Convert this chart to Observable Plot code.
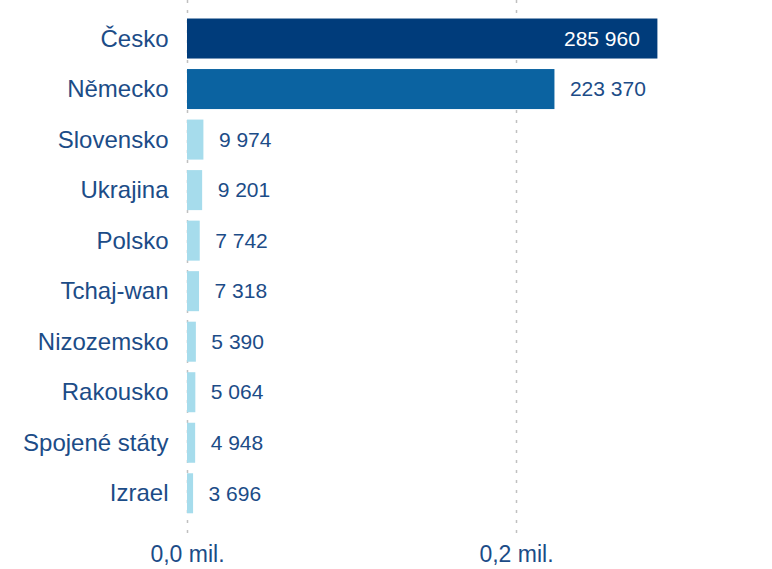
<!DOCTYPE html>
<html>
<head>
<meta charset="utf-8">
<script src="https://cdn.jsdelivr.net/npm/d3@7"></script>
<script src="https://cdn.jsdelivr.net/npm/@observablehq/plot@0.6"></script>
<style>
  html, body { margin: 0; padding: 0; background: #fff; }
  #chart svg { display: block; }
</style>
</head>
<body>
<div id="chart"></div>
<script>
const countries = ["Česko", "Německo", "Slovensko", "Ukrajina", "Polsko", "Tchaj-wan", "Nizozemsko", "Rakousko", "Spojené státy", "Izrael"];
const values = [285960, 223370, 9974, 9201, 7742, 7318, 5390, 5064, 4948, 3696];
const barColors = ["#003c7b", "#0b63a1", "#a6dcec", "#a6dcec", "#a6dcec", "#a6dcec", "#a6dcec", "#a6dcec", "#a6dcec", "#a6dcec"];
const tickValues = [0, 200000];
const tickLabels = ["0,0 mil.", "0,2 mil."];

const data = countries.map((c, i) => ({country: c, value: values[i], color: barColors[i], inside: i === 0}));
const fmt = d3.formatLocale({decimal: ",", thousands: " ", grouping: [3], currency: ["", " Kč"]}).format(",d");
const textColor = "#1c4c87";
const font = "'Liberation Sans', Arial, sans-serif";

const chart = Plot.plot({
  width: 772,
  height: 569,
  marginLeft: 187,
  marginRight: 91.5,
  marginTop: 8,
  marginBottom: 45.2,
  style: {fontFamily: font, background: "#fff"},
  x: {domain: [0, 300000], axis: null},
  y: {domain: countries, padding: 0.208, round: false, axis: null},
  marks: [
    Plot.ruleX(tickValues, {stroke: "#c0c0c0", strokeWidth: 1.5, strokeDasharray: "3,7", insetTop: -8, insetBottom: -13}),
    Plot.barX(data, {y: "country", x: "value", fill: "color"}),
    Plot.text(data.filter(d => d.inside), {y: "country", x: "value", text: d => fmt(d.value), textAnchor: "end", dx: -18, fill: "#fff", fontSize: 21}),
    Plot.text(data.filter(d => !d.inside), {y: "country", x: "value", text: d => fmt(d.value), textAnchor: "start", dx: 15, fill: textColor, fontSize: 21}),
    Plot.axisY({tickSize: 0, tickPadding: 19, fontSize: 24, color: textColor, label: null}),
    Plot.axisX({ticks: tickValues, tickFormat: (d) => tickLabels[tickValues.indexOf(d)], tickSize: 0, tickPadding: 21, fontSize: 23, color: textColor, label: null})
  ]
});
document.getElementById("chart").appendChild(chart);
</script>
</body>
</html>
